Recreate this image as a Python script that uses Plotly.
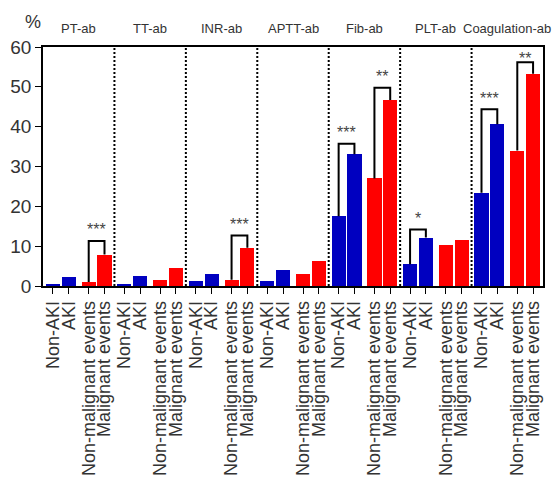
import plotly.graph_objects as go

groups = ["PT-ab", "TT-ab", "INR-ab", "APTT-ab", "Fib-ab", "PLT-ab", "Coagulation-ab"]
categories = ["Non-AKI", "AKI", "Non-malignant events", "Malignant events"]
non_aki = [0.4, 0.4, 1.25, 1.25, 17.5, 5.45, 23.4]
aki = [2.36, 2.6, 3.1, 4.1, 33.1, 12.15, 40.6]
non_malig = [1.0, 1.6, 1.6, 3.0, 27.0, 10.4, 34.0]
malig = [7.9, 4.6, 9.6, 6.3, 46.7, 11.5, 53.3]

# significance brackets: group index, pair (0 = AKI pair, 1 = malignancy pair), label, bracket top (%)
sig_groups = [0, 2, 4, 4, 5, 6, 6]
sig_pairs = [1, 1, 0, 1, 0, 0, 1]
sig_labels = ["***", "***", "***", "**", "*", "***", "**"]
sig_tops = [11.3, 12.7, 35.7, 49.8, 14.2, 44.4, 56.2]

yticks = [0, 10, 20, 30, 40, 50, 60]

BLUE = "#0000C0"
RED = "#FF0000"
offsets = [0.139, 0.360, 0.640, 0.861]
bw = 0.198

series = [non_aki, aki, non_malig, malig]
colors = [BLUE, BLUE, RED, RED]

fig = go.Figure()
for k in range(4):
    xs = [g + offsets[k] for g in range(len(groups))]
    fig.add_trace(go.Bar(x=xs, y=series[k], width=bw, marker=dict(color=colors[k], line=dict(width=0)),
                         showlegend=False, hoverinfo="y"))

tickvals, ticktext = [], []
for g in range(len(groups)):
    for k in range(4):
        tickvals.append(g + offsets[k])
        ticktext.append(categories[k])

# brackets
for g, p, lab, top in zip(sig_groups, sig_pairs, sig_labels, sig_tops):
    k1, k2 = 2 * p, 2 * p + 1
    x1, x2 = g + offsets[k1], g + offsets[k2]
    y1, y2 = series[k1][g], series[k2][g]
    fig.add_trace(go.Scatter(x=[x1, x1, x2, x2], y=[y1, top, top, y2], mode="lines",
                             line=dict(color="black", width=2), showlegend=False, hoverinfo="skip",
                             cliponaxis=False))
    shift = 4 if top > 55 else 11
    fig.add_annotation(x=(x1 + x2) / 2, y=top, text=lab, showarrow=False, yanchor="middle",
                       yshift=shift, font=dict(size=16, color="#444", family="Liberation Sans, Arial"))

# dotted separators
for g in range(1, len(groups)):
    fig.add_shape(type="line", x0=g, x1=g, y0=0, y1=60, xref="x", yref="y",
                  line=dict(color="black", width=2, dash="2px,2px"))

# group titles
for g, name in enumerate(groups):
    fig.add_annotation(x=g + 0.5, y=1, xref="x", yref="paper", text=name, showarrow=False,
                       yanchor="middle", yshift=19, font=dict(size=13, color="#333", family="Liberation Sans, Arial"))

fig.add_annotation(x=0, y=1, xref="paper", yref="paper", text="%", showarrow=False,
                   xanchor="center", yanchor="middle", xshift=-10, yshift=25,
                   font=dict(size=18, color="#333", family="Liberation Sans, Arial"))

# page body has an 8px default margin, so the figure is sized to fit the window from that offset
fig.update_layout(
    width=552, height=474,
    margin=dict(l=35, r=17, t=39, b=196),
    plot_bgcolor="white", paper_bgcolor="white",
    font=dict(family="Liberation Sans, Arial", color="#333"),
    bargap=0,
)
fig.update_xaxes(range=[0, 7], tickmode="array", tickvals=tickvals, ticktext=ticktext,
                 tickangle=-90, ticks="outside", ticklen=6, tickwidth=1.2, tickcolor="black",
                 showline=True, linecolor="black", linewidth=1.5, mirror=True, automargin=False,
                 showgrid=False, zeroline=False, tickfont=dict(size=18, color="#333"))
fig.update_yaxes(range=[0, 60], tickmode="array", tickvals=yticks, ticks="outside", ticklen=6,
                 tickwidth=1.2, tickcolor="black", showline=True, linecolor="black", linewidth=1.5,
                 mirror=True, showgrid=False, zeroline=False, automargin=False,
                 tickfont=dict(size=19, color="#333"))

fig.write_html("out.html")
